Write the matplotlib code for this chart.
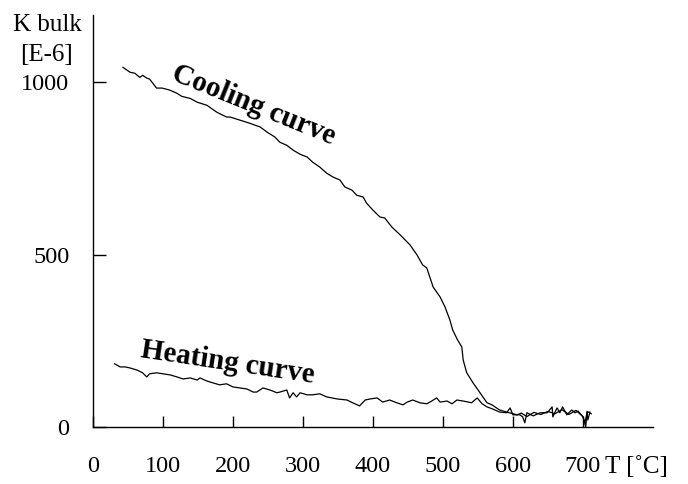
import matplotlib
matplotlib.use('Agg')
import matplotlib.pyplot as plt

# cooling curve
cool_T = [43, 53, 60, 67, 71, 77, 81, 91, 99, 110, 120, 127, 139, 149, 163, 177, 191,
          196, 210, 224, 239, 249, 260, 267, 277, 286, 296, 306, 314, 324, 334, 343,
          353, 360, 370, 377, 386, 391, 400, 410, 417, 427, 439, 453, 463, 471, 477,
          486, 496, 503, 510, 514, 521, 527, 529, 534, 543, 553, 563, 570, 581, 591,
          606, 612, 620, 630, 640, 650, 660, 670, 680, 690, 700, 704, 706, 712]
cool_K = [1043, 1029, 1026, 1014, 1020, 1012, 1009, 983, 983, 977, 968, 959, 953, 942,
          933, 913, 899, 899, 890, 881, 870, 855, 841, 826, 817, 803, 791, 783, 768,
          754, 736, 725, 716, 696, 687, 672, 667, 649, 629, 609, 606, 580, 557, 528,
          499, 470, 461, 406, 377, 348, 310, 281, 252, 232, 194, 157, 128, 99, 70, 64,
          49, 43, 35, 40, 30, 42, 36, 45, 38, 50, 36, 48, 30, 0, 45, 38]

# heating curve
heat_T = [31, 39, 46, 53, 63, 71, 77, 81, 91, 100, 110, 120, 129, 139, 149, 153, 163,
          171, 181, 191, 200, 210, 220, 229, 234, 243, 253, 263, 267, 277, 281, 286,
          291, 296, 306, 314, 324, 334, 349, 363, 371, 381, 389, 396, 406, 414, 424,
          434, 443, 449, 457, 467, 477, 484, 491, 496, 506, 513, 520, 529, 541, 549,
          556, 563, 571, 581, 591, 596, 600, 610, 614, 617, 620, 629, 639, 649, 656,
          657, 663, 667, 671, 677, 684, 689, 693, 700, 703, 706, 707, 710]
heat_K = [183, 174, 174, 171, 165, 157, 145, 154, 157, 154, 151, 145, 139, 142, 136,
          142, 133, 128, 122, 125, 116, 113, 110, 101, 101, 113, 107, 99, 101, 107, 84,
          99, 87, 99, 93, 93, 96, 87, 81, 78, 70, 61, 78, 81, 84, 72, 78, 70, 64, 72,
          78, 70, 67, 75, 84, 72, 75, 67, 78, 75, 70, 84, 67, 58, 52, 43, 41, 55, 35,
          35, 29, 12, 41, 32, 41, 41, 58, 29, 55, 41, 58, 35, 49, 41, 46, 29, 12, 43,
          20, 43]

x_ticks = [0, 100, 200, 300, 400, 500, 600, 700]
y_ticks = [0, 500, 1000]

plt.rcParams['font.family'] = ['Liberation Serif', 'DejaVu Serif']

fig = plt.figure(figsize=(6.88, 4.84), dpi=100)
ax = fig.add_axes([0.135, 0.118, 0.814, 0.851])

ax.plot(cool_T, cool_K, color='black', lw=0.9)
ax.plot(heat_T, heat_K, color='black', lw=0.9)

ax.set_xlim(0, 800)
ax.set_ylim(0, 1195)
ax.set_xticks(x_ticks)
ax.set_yticks(y_ticks)
ax.tick_params(axis='x', direction='in', length=8, width=1, pad=21, labelsize=17.5)
ax.tick_params(axis='y', direction='in', length=9, width=1, pad=17, labelsize=17.5)
for s in ['top', 'right']:
    ax.spines[s].set_visible(False)
for s in ['left', 'bottom']:
    ax.spines[s].set_linewidth(1.0)

fig.text(47 / 688, 1 - 25 / 484, 'K bulk', ha='center', va='center', fontsize=18)
fig.text(47 / 688, 1 - 55 / 484, '[E-6]', ha='center', va='center', fontsize=18)
fig.text(605 / 688, 1 - 467 / 484, 'T [\u02daC]', ha='left', va='center', fontsize=18)

ax.text(230, 933, 'Cooling curve', rotation=-22, ha='center', va='center',
        fontsize=21, fontweight='bold', rotation_mode='anchor')
ax.text(192, 186, 'Heating curve', rotation=-8.5, ha='center', va='center',
        fontsize=21, fontweight='bold', rotation_mode='anchor')

fig.savefig('out.png', dpi=100)
